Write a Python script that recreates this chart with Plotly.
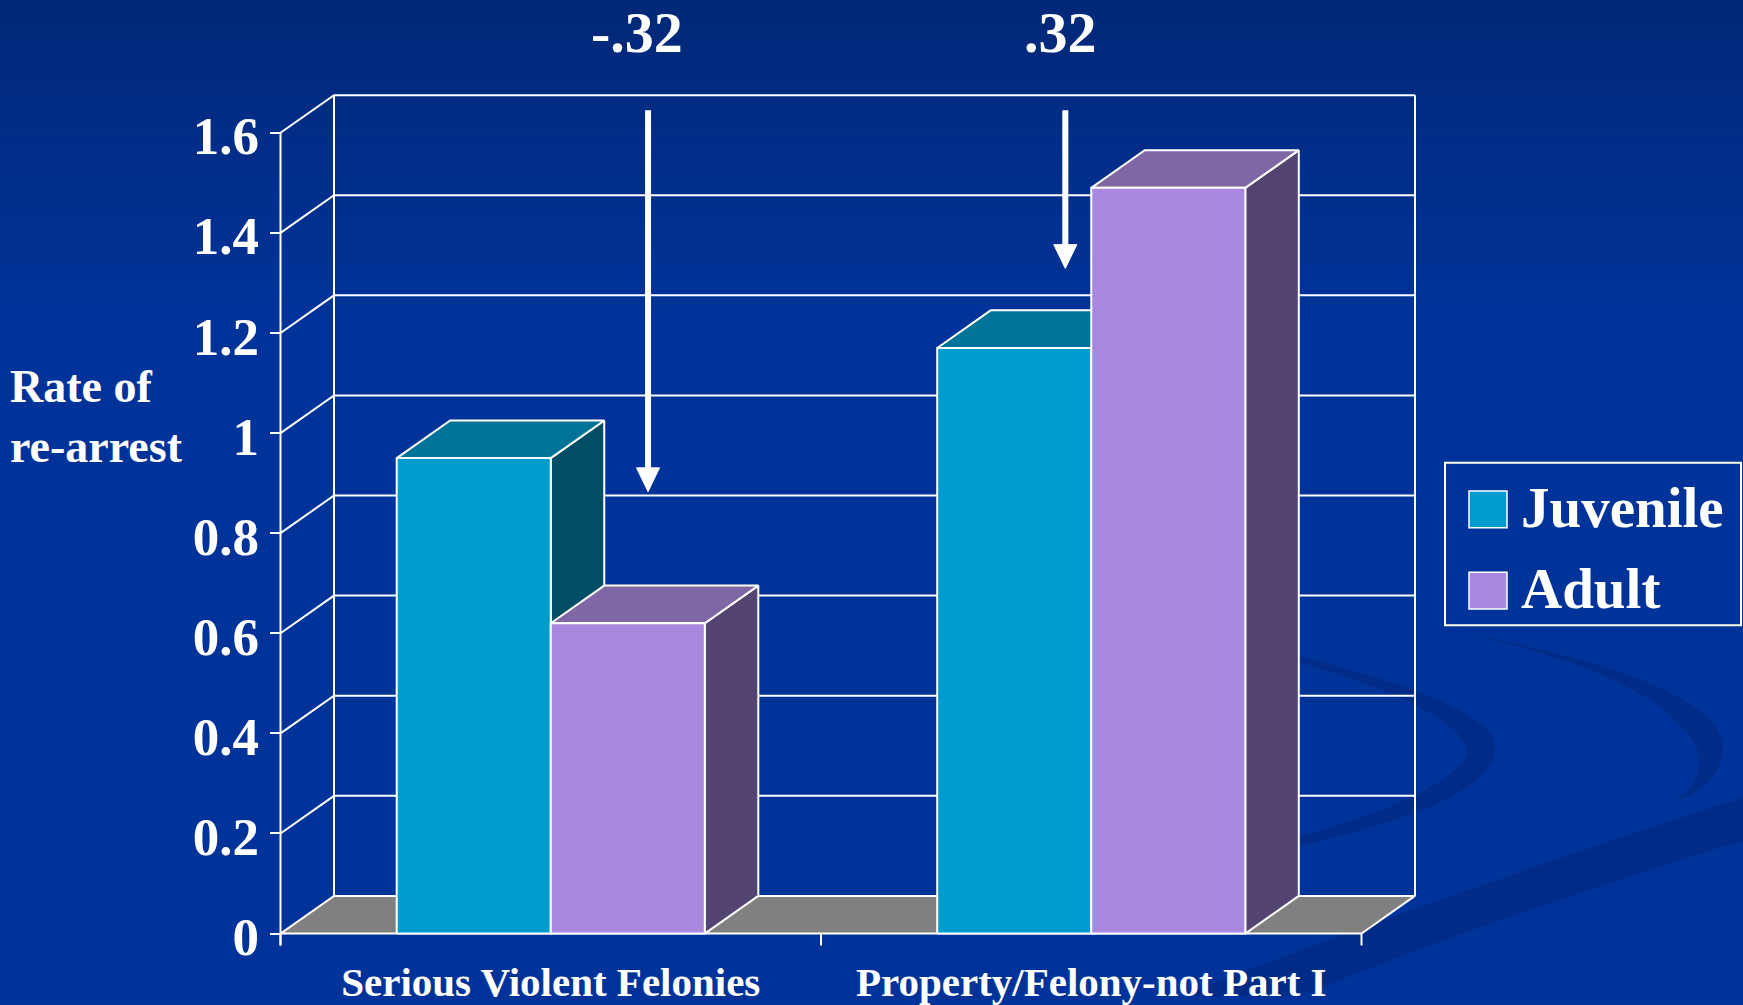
import plotly.graph_objects as go

# ---------------- data ----------------
categories = ["Serious Violent Felonies", "Property/Felony-not Part I"]
series_names = ["Juvenile", "Adult"]
juvenile = [0.95, 1.17]
adult = [0.62, 1.49]
y_ticks = [0, 0.2, 0.4, 0.6, 0.8, 1.0, 1.2, 1.4, 1.6]
y_tick_text = ["0", "0.2", "0.4", "0.6", "0.8", "1", "1.2", "1.4", "1.6"]
diff_labels = ["-.32", ".32"]
arrow_tips = [0.883, 1.329]
y_title = "Rate of<br>re-arrest"

# ---------------- styling / geometry ----------------
W, H = 1743, 1005
FONT = "Liberation Serif, Times New Roman, serif"
BG = "#003399"
WHITE = "#FFFFFF"
front_col = {"Juvenile": "#009CCD", "Adult": "#A887DE"}
top_col = {"Juvenile": "#007399", "Adult": "#7F67A6"}
side_col = {"Juvenile": "#004D66", "Adult": "#544472"}

PX_PER_CAT = 540.5
PX_PER_UNIT = 505.0
X_LEFT_PX = 280.5      # pixel of category edge -0.5
Y_ZERO_PX = 942.0      # pixel of value 0
DX = 53.5 / PX_PER_CAT  # depth offset (x, data units)
DY = 38 / PX_PER_UNIT   # depth offset (y, data units)
BAR_W = 0.285
YMAX = 1.6

x_range = [-0.5 - X_LEFT_PX / PX_PER_CAT, -0.5 + (W - X_LEFT_PX) / PX_PER_CAT]
y_range = [-(H - Y_ZERO_PX) / PX_PER_UNIT, Y_ZERO_PX / PX_PER_UNIT]

n = len(categories)
xl, xr = -0.5, n - 0.5

fig = go.Figure()


def poly(xs, ys, fill, lw=2, lc=WHITE):
    fig.add_trace(go.Scatter(
        x=list(xs) + [xs[0]], y=list(ys) + [ys[0]], mode="lines", fill="toself",
        fillcolor=fill, line=dict(color=lc, width=lw), hoverinfo="skip",
        showlegend=False))


def line(xs, ys, w=2, c=WHITE):
    fig.add_trace(go.Scatter(x=xs, y=ys, mode="lines", line=dict(color=c, width=w),
                             hoverinfo="skip", showlegend=False))


# floor
poly([xl, xr, xr + DX, xl + DX], [0, 0, DY, DY], "#808080")

# back wall verticals
line([xl + DX, xl + DX], [DY, YMAX + DY])
line([xr + DX, xr + DX], [DY, YMAX + DY])
# gridlines (back wall + side wall diagonals)
for v in y_ticks[1:]:
    line([xl, xl + DX, xr + DX], [v, v + DY, v + DY])
# front y axis line
line([xl, xl], [-12 / PX_PER_UNIT, YMAX])
# x-axis category boundary ticks
for b in range(n + 1):
    line([xl + b, xl + b], [0, -12 / PX_PER_UNIT])

# bars
for i in range(n):
    for name, vals, x0 in (("Juvenile", juvenile, i - BAR_W), ("Adult", adult, i)):
        v = vals[i]
        x1 = x0 + BAR_W
        poly([x1, x1 + DX, x1 + DX, x1], [0, DY, v + DY, v], side_col[name])
        poly([x0, x1, x1 + DX, x0 + DX], [v, v, v + DY, v + DY], top_col[name])
        poly([x0, x1, x1, x0], [0, 0, v, v], front_col[name])

# arrows + difference labels
arrow_x = [0 + 0.18, 1 - 0.048]
label_dx = [-0.02, -0.009]
ARROW_TOP = 1.645
HEAD_LEN = 24 / PX_PER_UNIT
HEAD_HW = 11.5 / PX_PER_CAT
for ax, tip, lab, ldx in zip(arrow_x, arrow_tips, diff_labels, label_dx):
    line([ax, ax], [ARROW_TOP, tip + HEAD_LEN * 0.8], w=6)
    poly([ax - HEAD_HW, ax + HEAD_HW, ax], [tip + HEAD_LEN, tip + HEAD_LEN, tip], WHITE, lw=1)
    fig.add_annotation(x=ax + ldx, y=1.80, xref="x", yref="y", text=lab, showarrow=False,
                       font=dict(family=FONT, size=58, color=WHITE, weight="bold"),
                       xanchor="center", yanchor="middle")

# ---------------- background shapes ----------------
shapes = []
top_cols = [(0, 40, 120), (0, 51, 153)]
NB = 30
band_h = 320 / NB
for k in range(NB):
    t = k / (NB - 1)
    c = tuple(int(round(top_cols[0][j] + (top_cols[1][j] - top_cols[0][j]) * t)) for j in range(3))
    y0 = k * band_h
    shapes.append(dict(type="rect", xref="paper", yref="paper", layer="below",
                       x0=0, x1=1, y0=1 - (y0 + band_h + 1) / H, y1=1 - y0 / H,
                       fillcolor="rgb(%d,%d,%d)" % c, line=dict(width=0)))


def P(px, py):
    return "%.4f,%.4f" % (px / W, 1 - py / H)


SW = "rgba(0,35,110,0.4)"
# diagonal swoosh band
shapes.append(dict(type="path", xref="paper", yref="paper", layer="below",
                   path="M %s Q %s %s L %s Q %s %s Z" % (
                       P(1180, 1005), P(1450, 900), P(1743, 805),
                       P(1743, 848), P(1480, 930), P(1300, 1005)),
                   fillcolor=SW, line=dict(width=0)))
# crescent 1
shapes.append(dict(type="path", xref="paper", yref="paper", layer="below",
                   path="M %s Q %s %s Q %s %s Q %s %s Q %s %s Z" % (
                       P(1150, 630), P(1510, 700), P(1495, 760),
                       P(1480, 830), P(1150, 880),
                       P(1440, 820), P(1468, 760),
                       P(1460, 700), P(1150, 630)),
                   fillcolor=SW, line=dict(width=0)))
# crescent 2
shapes.append(dict(type="path", xref="paper", yref="paper", layer="below",
                   path="M %s Q %s %s Q %s %s Q %s %s Q %s %s Z" % (
                       P(1450, 636), P(1740, 690), P(1722, 765),
                       P(1710, 800), P(1675, 807),
                       P(1705, 790), P(1697, 755),
                       P(1660, 680), P(1450, 636)),
                   fillcolor=SW, line=dict(width=0)))

# legend (manual)
shapes.append(dict(type="rect", xref="paper", yref="paper",
                   x0=1445 / W, x1=1741 / W, y0=1 - 631 / H, y1=1 - 467 / H,
                   line=dict(color=WHITE, width=2), fillcolor=BG))
leg_y = [514, 596]
for name, cy in zip(series_names, leg_y):
    shapes.append(dict(type="rect", xref="paper", yref="paper",
                       x0=1469 / W, x1=1507 / W, y0=1 - (cy + 18.5) / H, y1=1 - (cy - 18.5) / H,
                       line=dict(color=WHITE, width=1.5), fillcolor=front_col[name]))
    fig.add_annotation(x=1519 / W, y=1 - (cy - 2) / H, xref="paper", yref="paper", text=name,
                       showarrow=False, xanchor="left", yanchor="middle",
                       font=dict(family=FONT, size=57, color=WHITE, weight="bold"))

# y axis title
fig.add_annotation(x=8 / W, y=1 - 420 / H, xref="paper", yref="paper", text=y_title,
                   showarrow=False, xanchor="left", yanchor="middle", align="left",
                   font=dict(family=FONT, size=46, color=WHITE, weight="bold"))

fig.update_layout(
    width=W, height=H, margin=dict(l=0, r=0, t=0, b=0),
    paper_bgcolor=BG, plot_bgcolor="rgba(0,0,0,0)",
    shapes=shapes, showlegend=False,
    xaxis=dict(range=x_range, domain=[0, 1], anchor="free", position=(H - Y_ZERO_PX) / H,
               tickmode="array", tickvals=list(range(n)), ticktext=categories,
               ticks="outside", ticklen=12, tickcolor="rgba(0,0,0,0)",
               tickfont=dict(family=FONT, size=41, color=WHITE, weight="bold"),
               showgrid=False, zeroline=False, showline=False, fixedrange=True),
    yaxis=dict(range=y_range, domain=[0, 1], anchor="free", position=X_LEFT_PX / W,
               tickmode="array", tickvals=y_ticks, ticktext=y_tick_text,
               ticks="outside", ticklen=11, tickwidth=2, tickcolor=WHITE,
               ticklabelshift=3,
               tickfont=dict(family=FONT, size=53, color=WHITE, weight="bold"),
               showgrid=False, zeroline=False, showline=False, fixedrange=True),
)

fig.write_html("out.html")
